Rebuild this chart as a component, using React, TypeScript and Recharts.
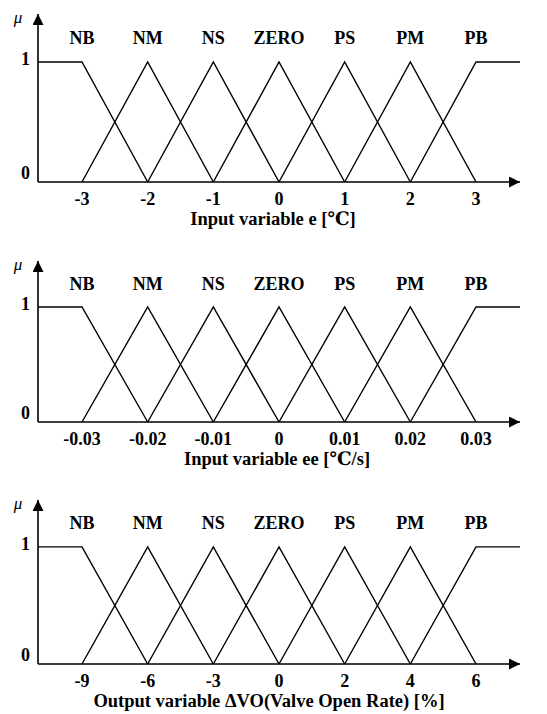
import { LineChart, Line, XAxis, YAxis, ReferenceDot } from "recharts";

const FONT = "'Liberation Serif', 'Times New Roman', 'DejaVu Serif', serif";

// linguistic terms, placed at evenly spaced positions on the axis
const TERMS = ["NB", "NM", "NS", "ZERO", "PS", "PM", "PB"];
const TERM_POS = [-3, -2, -1, 0, 1, 2, 3];
const X_DOMAIN = [-3.67, 3.67];

// tick labels of the three universes
const E_TICKS = ["-3", "-2", "-1", "0", "1", "2", "3"];
const EE_TICKS = ["-0.03", "-0.02", "-0.01", "0", "0.01", "0.02", "0.03"];
const DVO_TICKS = ["-9", "-6", "-3", "0", "2", "4", "6"];
const MU_TICKS = [0, 1];

// membership breakpoints [position, mu]
const NB = [[-3.67, 1], [-3, 1], [-2, 0]];
const NM = [[-3, 0], [-2, 1], [-1, 0]];
const NS = [[-2, 0], [-1, 1], [0, 0]];
const ZERO = [[-1, 0], [0, 1], [1, 0]];
const PS = [[0, 0], [1, 1], [2, 0]];
const PM = [[1, 0], [2, 1], [3, 0]];
const PB = [[2, 0], [3, 1], [3.67, 1]];
const SETS = [NB, NM, NS, ZERO, PS, PM, PB];

const LABEL_MU = 1.2;

type PanelProps = {
  top: number;
  plotTop: number;
  plotH: number;
  ticks: string[];
  title: string;
  titleDx: number;
};

function YTick({ x, y, payload }: any) {
  const dy = payload.value === 0 ? -3 : 3;
  return (
    <text x={x} y={y + dy} textAnchor="end" fill="#000" fontSize={18} fontWeight="bold" fontFamily={FONT}>
      {payload.value}
    </text>
  );
}

function Panel({ top, plotTop, plotH, ticks, title, titleDx }: PanelProps) {
  const axisH = 52;
  return (
    <div style={{ position: "absolute", left: 0, top }}>
      <LineChart
        width={547}
        height={plotTop + plotH + axisH}
        margin={{ top: plotTop, right: 27, left: 0, bottom: 0 }}
      >
        <XAxis
          type="number"
          dataKey="x"
          domain={X_DOMAIN}
          allowDataOverflow
          ticks={TERM_POS}
          interval={0}
          tickFormatter={(v) => ticks[TERM_POS.indexOf(v)]}
          height={axisH}
          axisLine={{ stroke: "#000", strokeWidth: 1.6, markerEnd: "url(#arrowHead)" }}
          tickLine={false}
          tickSize={6}
          tickMargin={4}
          tick={{ fill: "#000", fontSize: 18, fontWeight: "bold", fontFamily: FONT }}
          label={{
            content: ({ viewBox }: any) => (
              <text
                x={viewBox.x + viewBox.width / 2 + titleDx}
                y={viewBox.y + 43}
                textAnchor="middle"
                fill="#000"
                fontSize={18.5}
                fontWeight="bold"
                fontFamily={FONT}
              >
                {title}
              </text>
            ),
          }}
        />
        <YAxis
          type="number"
          domain={[0, 1.4]}
          ticks={MU_TICKS}
          width={38}
          axisLine={{ stroke: "#000", strokeWidth: 1.6, markerStart: "url(#arrowHead)" }}
          tickLine={false}
          tick={<YTick />}
          label={{
            content: ({ viewBox }: any) => (
              <text
                x={18}
                y={viewBox.y + 9}
                textAnchor="middle"
                fill="#000"
                fontSize={17}
                fontStyle="italic"
                fontFamily={FONT}
              >
                μ
              </text>
            ),
          }}
        />
        {SETS.map((pts, i) => (
          <Line
            key={TERMS[i]}
            data={pts.map(([x, mu]) => ({ x, mu }))}
            dataKey="mu"
            type="linear"
            stroke="#000"
            strokeWidth={1.4}
            dot={false}
            activeDot={false}
            isAnimationActive={false}
          />
        ))}
        {TERMS.map((t, i) => (
          <ReferenceDot
            key={t}
            x={TERM_POS[i]}
            y={LABEL_MU}
            r={0}
            shape={(p: any) => (
              <text
                x={p.cx}
                y={p.cy + 6}
                textAnchor="middle"
                fill="#000"
                fontSize={18}
                fontWeight="bold"
                fontFamily={FONT}
              >
                {t}
              </text>
            )}
          />
        ))}
      </LineChart>
    </div>
  );
}

export default function App() {
  return (
    <div style={{ position: "absolute", left: 0, top: 0, width: 547, height: 714, background: "#fff" }}>
      <svg width={0} height={0} style={{ position: "absolute" }}>
        <defs>
          <marker
            id="arrowHead"
            viewBox="0 0 10 10"
            refX={10}
            refY={5}
            markerWidth={17}
            markerHeight={11}
            markerUnits="userSpaceOnUse"
            orient="auto-start-reverse"
          >
            <path d="M0,0 L10,5 L0,10 z" fill="#000" />
          </marker>
        </defs>
      </svg>
      <Panel top={0} plotTop={14} plotH={168} ticks={E_TICKS} title="Input variable e [℃]" titleDx={-6} />
      <Panel top={240} plotTop={21} plotH={161} ticks={EE_TICKS} title="Input variable ee [℃/s]" titleDx={-2} />
      <Panel top={480} plotTop={20} plotH={164} ticks={DVO_TICKS} title="Output variable ΔVO(Valve Open Rate) [%]" titleDx={-10} />
    </div>
  );
}
